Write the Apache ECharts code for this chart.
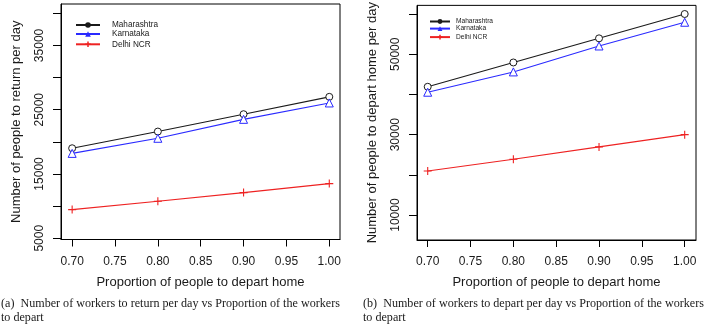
<!DOCTYPE html>
<html><head><meta charset="utf-8">
<script src="https://cdn.jsdelivr.net/npm/echarts@6/dist/echarts.min.js"></script>
<style>html,body{margin:0;padding:0;background:#fff}#c{width:709px;height:324px}</style>
</head><body><div id="c"></div>
<script>
const proportions = [0.70, 0.80, 0.90, 1.00];
const xTicks = [0.70, 0.75, 0.80, 0.85, 0.90, 0.95, 1.00];

const returnMaharashtra = [19000, 21600, 24300, 27000];
const returnKarnataka = [18200, 20550, 23500, 26050];
const returnDelhi = [9450, 10750, 12100, 13500];
const returnYTicks = [5000, 10000, 15000, 20000, 25000, 30000, 35000, 40000];
const returnYLabels = [5000, 15000, 25000, 35000];

const departMaharashtra = [41900, 47950, 53950, 60000];
const departKarnataka = [40550, 45600, 52050, 57950];
const departDelhi = [20950, 23900, 26950, 30000];
const departYTicks = [10000, 20000, 30000, 40000, 50000, 60000];
const departYLabels = [10000, 30000, 50000];

const names = ['Maharashtra', 'Karnataka', 'Delhi NCR'];
const colors = ['#1a1a1a', '#2a2aff', '#ee2222'];
const plusPath = 'path://M0,-10L0,10M-10,0L10,0';

const FONT = '"Liberation Sans", Arial, sans-serif';
const TXT = '#1a1a1a';

function pairs(vals) { return proportions.map((p, i) => [p, vals[i]]); }

function xAxis(idx, min, max) {
  return {
    type: 'value', gridIndex: idx, min: min, max: max,
    name: 'Proportion of people to depart home', nameLocation: 'middle', nameGap: 36,
    nameTextStyle: { fontFamily: FONT, fontSize: 13, color: TXT },
    axisLine: { show: true, onZero: false, lineStyle: { color: '#000', width: 1 } },
    axisTick: { show: true, length: 7, customValues: xTicks, lineStyle: { color: '#000' } },
    axisLabel: { customValues: xTicks, margin: 16, fontFamily: FONT, fontSize: 12, color: TXT,
      formatter: v => v.toFixed(2) },
    splitLine: { show: false }
  };
}
function yAxis(idx, min, max, ticks, labels, title) {
  return {
    type: 'value', gridIndex: idx, min: min, max: max,
    name: title, nameLocation: 'middle', nameGap: 38, nameRotate: 90,
    nameTextStyle: { fontFamily: FONT, fontSize: 13, color: TXT },
    axisLine: { show: true, onZero: false, lineStyle: { color: '#000', width: 1 } },
    axisTick: { show: true, length: 8, customValues: ticks, lineStyle: { color: '#000' } },
    axisLabel: { customValues: labels, rotate: 90, margin: 15, fontFamily: FONT, fontSize: 12, color: TXT,
      formatter: v => String(v) },
    splitLine: { show: false }
  };
}
function series(idx, vals, k) {
  const sym = ['circle', 'triangle', plusPath][k];
  const size = [7, 8, 8][k];
  return {
    name: names[k], type: 'line', xAxisIndex: idx, yAxisIndex: idx,
    data: pairs(vals), symbol: sym, symbolSize: size, showAllSymbol: true,
    lineStyle: { color: colors[k], width: 1.1 },
    itemStyle: k === 2 ? { color: 'none', borderColor: colors[k], borderWidth: 1.1 } : { color: '#fff', borderColor: colors[k], borderWidth: 1 },
    emphasis: { disabled: true }, animation: false, z: 3
  };
}
// empty series that only give the legend its filled key symbols
function keySeries(k) {
  return {
    name: names[k], type: 'line', xAxisIndex: 0, yAxisIndex: 0, data: [],
    symbol: ['circle', 'triangle', plusPath][k],
    lineStyle: { color: colors[k], width: 2 },
    itemStyle: k === 2 ? { color: 'none', borderColor: colors[k], borderWidth: 1.5 } : { color: colors[k] },
    animation: false
  };
}
function legend(left, top, gap, fs, ih, w, pad) {
  return {
    orient: 'vertical', left: left, top: top, itemGap: gap, itemWidth: w, itemHeight: ih,
    selectedMode: false, padding: 0,
    textStyle: { fontFamily: FONT, fontSize: fs, lineHeight: ih, color: TXT, padding: [0, 0, 0, pad] },
    data: names.map((n, k) => ({
      name: n,
      itemStyle: k === 2 ? { color: 'none', borderColor: colors[k], borderWidth: 1.5 } : { color: colors[k], borderWidth: 0 },
      lineStyle: { color: colors[k], width: 2 }
    }))
  };
}

const chart = echarts.init(document.getElementById('c'), null, { renderer: 'canvas' });
chart.setOption({
  animation: false,
  backgroundColor: '#fff',
  grid: [
    { left: 61, top: 4, width: 279, height: 235.5, show: true, borderColor: '#000', borderWidth: 1 },
    { left: 417, top: 4, width: 279, height: 236, show: true, borderColor: '#000', borderWidth: 1 }
  ],
  xAxis: [xAxis(0, 0.687, 1.0125), xAxis(1, 0.6875, 1.0132)],
  yAxis: [
    yAxis(0, 4800, 41450, returnYTicks, returnYLabels, 'Number of people to return per day'),
    yAxis(1, 3800, 62150, departYTicks, departYLabels, 'Number of people to depart home per day')
  ],
  legend: [legend(75, 21, 1, 8.2, 7, 24, 7), legend(429, 18, 0.1, 6.6, 6, 20, 1)],
  title: [
    { text: '(a)  Number of workers to return per day vs Proportion of the workers\nto depart', left: 1, top: 297.5,
      padding: 0,
      textStyle: { fontFamily: '"Liberation Serif", "Times New Roman", serif', fontWeight: 'normal', fontSize: 12.1, color: TXT, lineHeight: 13.5 } },
    { text: '(b)  Number of workers to depart per day vs Proportion of the workers\nto depart', left: 363, top: 297.5,
      padding: 0,
      textStyle: { fontFamily: '"Liberation Serif", "Times New Roman", serif', fontWeight: 'normal', fontSize: 12.1, color: TXT, lineHeight: 13.5 } }
  ],
  series: [
    keySeries(0), keySeries(1), keySeries(2),
    series(0, returnMaharashtra, 0), series(0, returnKarnataka, 1), series(0, returnDelhi, 2),
    series(1, departMaharashtra, 0), series(1, departKarnataka, 1), series(1, departDelhi, 2)
  ]
});
</script></body></html>
